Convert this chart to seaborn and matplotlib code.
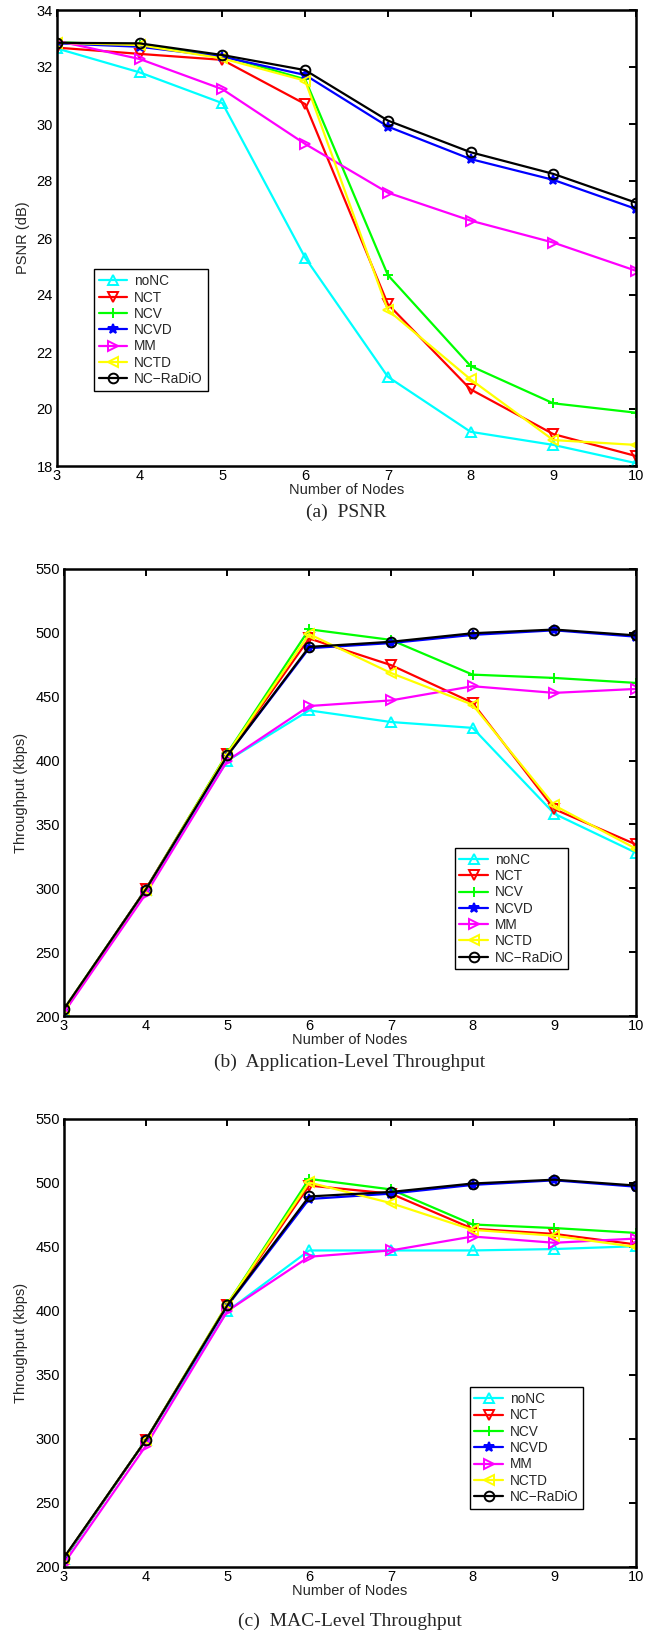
import matplotlib
matplotlib.use("Agg")
import matplotlib.pyplot as plt
import seaborn as sns
import pandas as pd

nodes = [3, 4, 5, 6, 7, 8, 9, 10]
methods = ["noNC", "NCT", "NCV", "NCVD", "MM", "NCTD", "NC\u2212RaDiO"]

psnr_noNC = [32.65, 31.81, 30.73, 25.31, 21.13, 19.20, 18.74, 18.10]
psnr_NCT = [32.68, 32.46, 32.25, 30.70, 23.68, 20.69, 19.12, 18.35]
psnr_NCV = [32.87, 32.77, 32.39, 31.57, 24.70, 21.51, 20.20, 19.87]
psnr_NCVD = [32.83, 32.71, 32.36, 31.72, 29.91, 28.77, 28.04, 27.02]
psnr_MM = [32.92, 32.28, 31.22, 29.30, 27.59, 26.61, 25.84, 24.85]
psnr_NCTD = [32.85, 32.77, 32.30, 31.52, 23.47, 21.04, 18.91, 18.74]
psnr_RaDiO = [32.85, 32.83, 32.42, 31.89, 30.12, 29.01, 28.25, 27.24]

app_noNC = [203.9, 298.8, 399.9, 439.3, 430.2, 425.6, 358.4, 327.8]
app_NCT = [204.7, 299.3, 405.0, 495.6, 474.8, 445.3, 362.0, 334.3]
app_NCV = [205.5, 299.0, 406.0, 502.8, 494.5, 467.3, 464.7, 460.8]
app_NCVD = [205.0, 299.0, 404.0, 488.0, 492.0, 498.4, 502.0, 497.0]
app_MM = [202.8, 295.4, 400.0, 442.7, 447.1, 458.2, 453.0, 456.1]
app_NCTD = [205.5, 299.0, 405.6, 499.0, 468.6, 443.7, 364.9, 331.0]
app_RaDiO = [205.5, 299.0, 404.0, 489.0, 493.0, 499.7, 502.6, 498.0]

mac_noNC = [206.0, 299.0, 399.9, 447.3, 447.3, 447.3, 448.4, 450.6]
mac_NCT = [207.0, 299.0, 404.8, 498.0, 491.7, 464.3, 460.2, 452.0]
mac_NCV = [207.0, 299.0, 405.5, 503.2, 495.0, 467.6, 464.8, 461.0]
mac_NCVD = [206.5, 299.0, 404.0, 487.5, 491.7, 498.5, 502.1, 497.1]
mac_MM = [202.7, 294.5, 400.0, 442.4, 447.3, 458.2, 453.3, 456.6]
mac_NCTD = [207.0, 299.0, 405.5, 500.4, 484.3, 463.4, 458.8, 450.0]
mac_RaDiO = [207.4, 299.0, 404.6, 489.5, 493.0, 499.6, 502.6, 498.0]

colors = ["#00ffff", "#ff0000", "#00ff00", "#0000ff", "#ff00ff", "#ffff00", "#000000"]
marks = ["^", "v", "+", "*", ">", "<", "o"]
open_marker = [True, True, False, False, True, True, True]

psnr_ticks = [18, 20, 22, 24, 26, 28, 30, 32, 34]
thr_ticks = [200, 250, 300, 350, 400, 450, 500, 550]

sns.set_theme(style="white")
plt.rcParams["font.family"] = ["Liberation Sans", "DejaVu Sans"]
plt.rcParams["axes.unicode_minus"] = True

fig = plt.figure(figsize=(6.67, 16.32), dpi=100)
W, H = 667.0, 1632.0

def add_ax(x0, x1, y0, y1):
    return fig.add_axes([x0 / W, 1 - y1 / H, (x1 - x0) / W, (y1 - y0) / H])

panels = [
    dict(box=(57, 636, 10, 466), series=[psnr_noNC, psnr_NCT, psnr_NCV, psnr_NCVD, psnr_MM, psnr_NCTD, psnr_RaDiO],
         ticks=psnr_ticks, ylabel="PSNR (dB)", leg=(0.064, 0.431),
         caption="(a)  PSNR", cap_y=512),
    dict(box=(64, 636, 569, 1016), series=[app_noNC, app_NCT, app_NCV, app_NCVD, app_MM, app_NCTD, app_RaDiO],
         ticks=thr_ticks, ylabel="Throughput (kbps)", leg=(0.683, 0.376),
         caption="(b)  Application-Level Throughput", cap_y=1062),
    dict(box=(64, 636, 1119, 1567), series=[mac_noNC, mac_NCT, mac_NCV, mac_NCVD, mac_MM, mac_NCTD, mac_RaDiO],
         ticks=thr_ticks, ylabel="Throughput (kbps)", leg=(0.709, 0.401),
         caption="(c)  MAC-Level Throughput", cap_y=1621),
]

for p in panels:
    ax = add_ax(*p["box"])
    for name, vals, c, m, op in zip(methods, p["series"], colors, marks, open_marker):
        df = pd.DataFrame({"x": nodes, "y": vals})
        kw = dict(marker=m, markersize=7 if m not in ("+", "*") else 7.5,
                  markeredgecolor=c, markeredgewidth=1.4)
        kw["markerfacecolor"] = "none" if op else c
        sns.lineplot(data=df, x="x", y="y", ax=ax, color=c, linewidth=1.6,
                     label=name, **kw)
    ax.set_xlim(3, 10)
    ax.set_ylim(p["ticks"][0], p["ticks"][-1])
    ax.set_xticks(nodes)
    ax.set_yticks(p["ticks"])
    ax.tick_params(direction="in", length=5, width=1.4, top=True, right=True,
                   labelsize=10.5, colors="black", pad=3)
    ax.tick_params(axis="x", pad=2.5)
    ax.set_xlabel("Number of Nodes", fontsize=10.5, labelpad=-0.5)
    ax.set_ylabel(p["ylabel"], fontsize=10.5, labelpad=5)
    for s in ax.spines.values():
        s.set_linewidth(1.8)
        s.set_color("black")
        s.set_visible(True)
    lx, ly = p["leg"]
    leg = ax.legend(loc="upper left", bbox_to_anchor=(lx, ly),
                    fontsize=9.8, frameon=True, fancybox=False, edgecolor="black",
                    framealpha=1, handlelength=2.1, handletextpad=0.5,
                    borderpad=0.35, labelspacing=0.17, borderaxespad=0)
    leg.get_frame().set_linewidth(1.0)
    fig.text(0.5 * (p["box"][0] + p["box"][1]) / W, 1 - p["cap_y"] / H, p["caption"],
             ha="center", va="center", fontsize=14,
             family=["Liberation Serif", "DejaVu Serif"])

fig.savefig("out.png", dpi=100)
